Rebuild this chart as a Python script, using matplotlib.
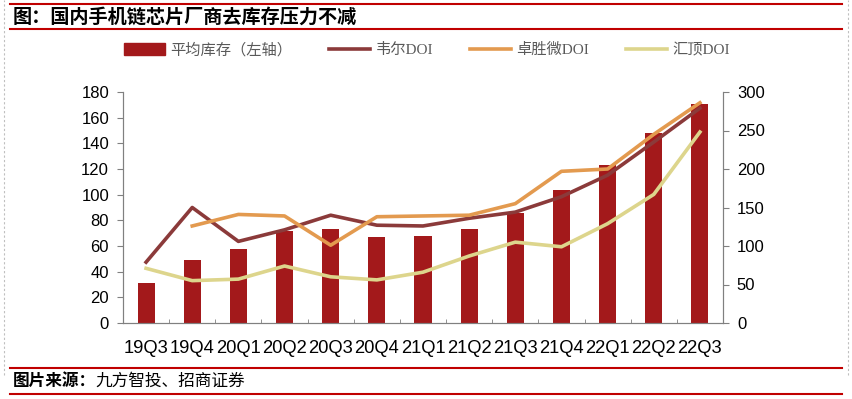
import numpy as np
import matplotlib.pyplot as plt
from matplotlib.lines import Line2D
from matplotlib.patches import Patch

plt.rcParams['font.family'] = ['Liberation Sans', 'Noto Sans CJK SC', 'DejaVu Sans']

# datos
quarters = ["19Q3", "19Q4", "20Q1", "20Q2", "20Q3", "20Q4", "21Q1",
            "21Q2", "21Q3", "21Q4", "22Q1", "22Q2", "22Q3"]
avg_inventory = [31, 49, 57.5, 71.5, 73, 67, 68, 73.5, 86, 103.5, 123.5, 148, 170.5]
will_doi = [79, 150, 106, 121, 140, 127, 126, 136, 144, 164, 192, 235, 279]
maxscend_doi = [np.nan, 126, 141, 139, 101, 138, 139, 140, 155, 197, 200, 245, 286]
goodix_doi = [71, 55, 57, 74, 60, 56, 66, 87, 105, 99, 129, 167, 248]

COLORS = {
    "bar": "#A3191B",
    "will": "#8B3A3A",
    "maxscend": "#E39A4F",
    "goodix": "#DDD58C",
}
RED = "#C00000"
CJK = ['Noto Sans CJK SC', 'DejaVu Sans']
LEG_FONT = ['Liberation Serif', 'Noto Sans CJK SC', 'DejaVu Sans']

fig = plt.figure(figsize=(8.52, 3.99), dpi=100)
ax = fig.add_axes([123 / 852, 76 / 399, 600 / 852, 231 / 399])
ax2 = ax.twinx()

x = np.arange(len(quarters))
ax.bar(x, avg_inventory, width=0.37, color=COLORS["bar"], zorder=2)
ax2.plot(x, will_doi, color=COLORS["will"], lw=2.6, solid_joinstyle="round")
ax2.plot(x, maxscend_doi, color=COLORS["maxscend"], lw=2.6, solid_joinstyle="round")
ax2.plot(x, goodix_doi, color=COLORS["goodix"], lw=2.6, solid_joinstyle="round")

ax.set_xlim(-0.5, len(quarters) - 0.5)
ax.set_ylim(0, 180)
ax.set_yticks(range(0, 181, 20))
ax2.set_ylim(0, 300)
ax2.set_yticks(range(0, 301, 50))

ax.set_xticks(x)
ax.set_xticklabels(quarters)
ax.set_xticks(np.arange(-0.5, len(quarters), 1), minor=True)
ax.tick_params(axis="x", which="major", length=0, pad=12, labelsize=13.2)
ax.tick_params(axis="x", which="minor", length=3, direction="in", color="#808080")
ax.tick_params(axis="y", length=4, color="#808080", labelsize=12, pad=6)
ax2.tick_params(axis="y", length=4, color="#808080", labelsize=12, pad=6)

for a in (ax, ax2):
    a.spines["top"].set_visible(False)
    for s in ("left", "right", "bottom"):
        a.spines[s].set_color("#808080")
        a.spines[s].set_linewidth(0.8)

# leyenda
handles = [
    Patch(color=COLORS["bar"], label="平均库存（左轴）"),
    Line2D([], [], color=COLORS["will"], lw=2.6, label="韦尔DOI"),
    Line2D([], [], color=COLORS["maxscend"], lw=2.6, label="卓胜微DOI"),
    Line2D([], [], color=COLORS["goodix"], lw=2.6, label="汇顶DOI"),
]
leg = fig.legend(handles=handles, loc="center", bbox_to_anchor=(0.501, 1 - 50 / 399),
                 ncol=4, frameon=False, handlelength=2.7, handleheight=0.8,
                 columnspacing=2.4, handletextpad=0.35,
                 prop={"family": LEG_FONT, "size": 11})
for t in leg.get_texts():
    t.set_color("#595959")

# título y fuente
fig.add_artist(Line2D([0.012, 0.988], [1 - 4 / 399] * 2, color=RED, lw=1.5))
fig.add_artist(Line2D([0.012, 0.988], [1 - 29 / 399] * 2, color=RED, lw=1.5))
fig.text(13 / 852, 1 - 17 / 399, "图：国内手机链芯片厂商去库存压力不减",
         family=CJK, fontsize=13.8, fontweight="bold", va="center")

fig.add_artist(Line2D([0.012, 0.988], [1 - 368 / 399] * 2, color=RED, lw=1.5))
fig.add_artist(Line2D([0.012, 0.988], [1 - 394 / 399] * 2, color=RED, lw=1.5))
fig.text(13 / 852, 1 - 381 / 399, "图片来源：", family=CJK, fontsize=12,
         fontweight="bold", va="center")
fig.text(95 / 852, 1 - 381 / 399, "九方智投、招商证券", family=CJK, fontsize=12,
         va="center")

# bordes de página punteados
fig.add_artist(Line2D([4 / 852] * 2, [0.06, 1], color="#BFBFBF", lw=0.8, ls=(0, (2, 2))))
fig.add_artist(Line2D([848 / 852] * 2, [0.06, 1], color="#BFBFBF", lw=0.8, ls=(0, (2, 2))))

fig.savefig("out.png", dpi=100)
